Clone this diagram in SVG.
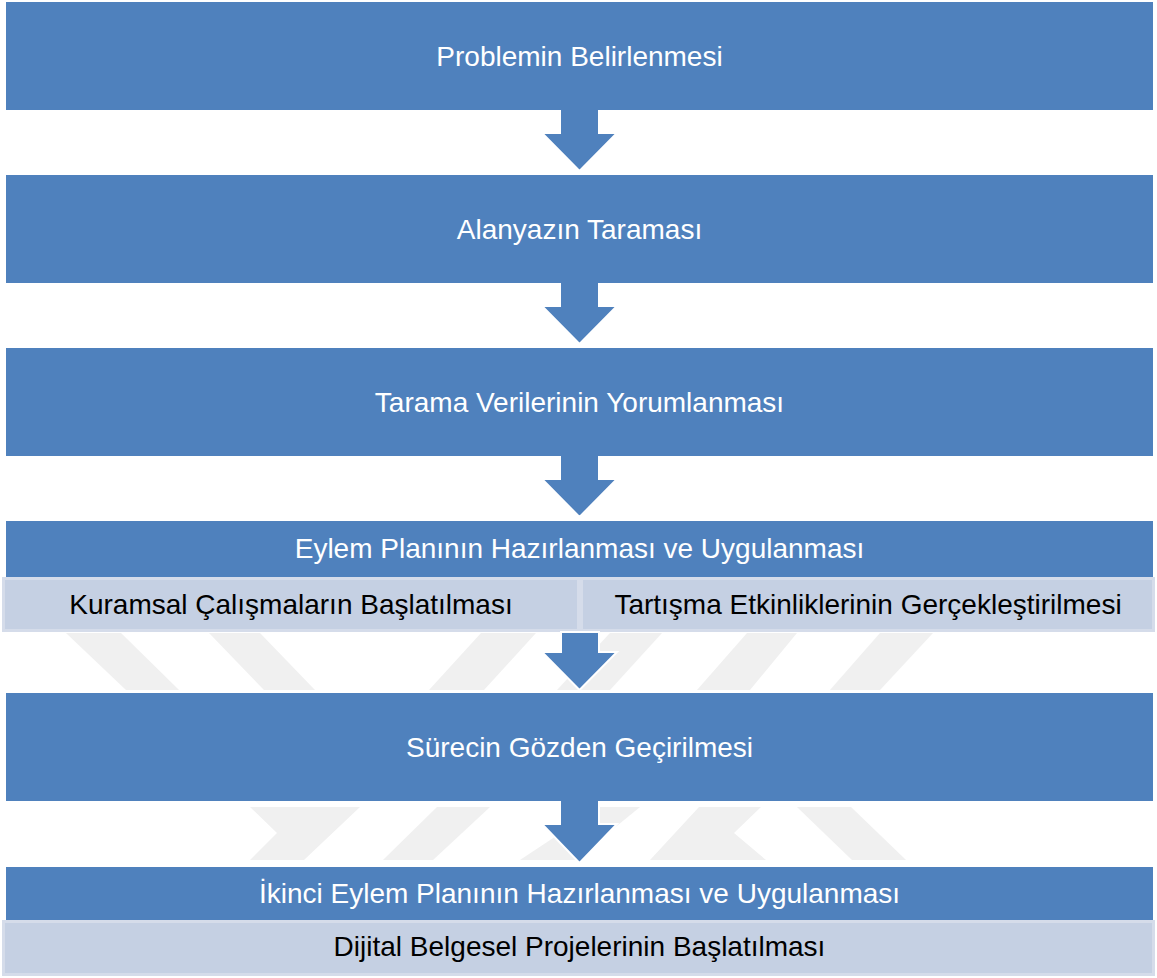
<svg xmlns="http://www.w3.org/2000/svg" width="1157" height="978" viewBox="0 0 1157 978">
<style>
.bg{fill:#ffffff}
.wm{fill:#f0f0f0}
.box{fill:#4f81bd}
.sub{fill:#c5d0e3;stroke:#d5dcea;stroke-width:3}
.arrow{fill:#4f81bd;stroke:#ffffff;stroke-width:2;stroke-linejoin:miter}
.cap{fill:#4f81bd}
.t{font-family:"Liberation Sans",Arial,sans-serif;font-size:28px;text-anchor:middle}
.tw{fill:#ffffff}
.tb{fill:#000000}
</style>
<rect class="bg" x="0" y="0" width="1157" height="978"/>
<g id="watermark">
<polygon class="wm" points="66,633 121,633 179,690 126,690"/>
<polygon class="wm" points="209,633 260,633 315,690 264,690"/>
<polygon class="wm" points="481,633 536,633 484,690 429,690"/>
<polygon class="wm" points="610,633 662,633 610,690 557,690"/>
<polygon class="wm" points="747,633 797,633 750,690 697,690"/>
<polygon class="wm" points="880,633 933,633 880,690 830,690"/>
<polygon class="wm" points="250,807 360,807 304,860 250,860 277,833"/>
<polygon class="wm" points="437,807 490,807 433,860 383,860"/>
<polygon class="wm" points="600,807 640,807 575,860 520,860"/>
<polygon class="wm" points="699,807 761,807 734,833 766,860 650,860"/>
<polygon class="wm" points="797,807 851,807 906,860 852,860"/>
</g>
<g id="n1">
<rect class="box" x="6" y="2" width="1147" height="108"/>
<text class="t tw" x="579.5" y="66">Problemin Belirlenmesi</text>
</g>
<g id="n2">
<rect class="box" x="6" y="175" width="1147" height="108"/>
<text class="t tw" x="579.5" y="239">Alanyazın Taraması</text>
</g>
<g id="n3">
<rect class="box" x="6" y="348" width="1147" height="108"/>
<text class="t tw" x="579.5" y="412">Tarama Verilerinin Yorumlanması</text>
</g>
<g id="n4">
<rect class="box" x="6" y="521" width="1147" height="57"/>
<text class="t tw" x="579.5" y="558">Eylem Planının Hazırlanması ve Uygulanması</text>
<g id="n4a">
<rect class="sub" x="3.5" y="578.5" width="575" height="52"/>
<text class="t tb" x="291" y="614">Kuramsal Çalışmaların Başlatılması</text>
</g>
<g id="n4b">
<rect class="sub" x="581.5" y="578.5" width="572" height="52"/>
<text class="t tb" x="868" y="614">Tartışma Etkinliklerinin Gerçekleştirilmesi</text>
</g>
</g>
<g id="n5">
<rect class="box" x="6" y="693" width="1147" height="108"/>
<text class="t tw" x="579.5" y="757">Sürecin Gözden Geçirilmesi</text>
</g>
<g id="n6">
<rect class="box" x="6" y="867" width="1147" height="54"/>
<text class="t tw" x="579.5" y="903">İkinci Eylem Planının Hazırlanması ve Uygulanması</text>
<g id="n6a">
<rect class="sub" x="3.5" y="921.5" width="1150" height="53"/>
<text class="t tb" x="579.5" y="956">Dijital Belgesel Projelerinin Başlatılması</text>
</g>
</g>
<g id="connectors">
<polygon class="arrow" points="560,107 599,107 599,133 617,133 579.5,171 542,133 560,133"/>
<rect class="cap" x="559" y="104" width="41" height="6"/>
<polygon class="arrow" points="560,280 599,280 599,306 617,306 579.5,344 542,306 560,306"/>
<rect class="cap" x="559" y="277" width="41" height="6"/>
<polygon class="arrow" points="560,453 599,453 599,479 617,479 579.5,517 542,479 560,479"/>
<rect class="cap" x="559" y="450" width="41" height="6"/>
<polygon class="arrow" points="561,632 599,632 599,652 617,652 579.5,690 542,652 561,652"/>
<polygon class="arrow" points="560,798 599,798 599,824 617,824 579.5,863 542,824 560,824"/>
<rect class="cap" x="559" y="795" width="41" height="6"/>
</g>
</svg>
